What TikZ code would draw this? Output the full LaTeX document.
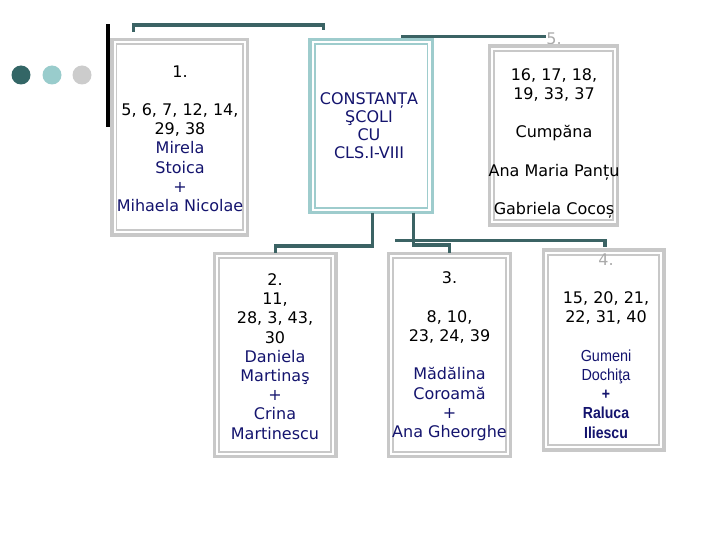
\documentclass[tikz,border=0pt]{standalone}
\usepackage{fontspec}
\setmainfont{DejaVu Sans}
\newfontfamily\arialf[FakeStretch=0.9]{Liberation Sans}
\newfontfamily\arialbf[FakeStretch=0.88]{Liberation Sans Bold}
\definecolor{boxgray}{RGB}{200,200,200}
\definecolor{boxteal}{RGB}{158,204,205}
\definecolor{conn}{RGB}{59,99,100}
\definecolor{dotdark}{RGB}{51,102,102}
\definecolor{dotlight}{RGB}{153,204,204}
\definecolor{dotgray}{RGB}{204,204,204}
\definecolor{navy}{RGB}{20,20,110}
\definecolor{lblgray}{RGB}{170,170,170}
\newcommand{\nv}[1]{{\color{navy}#1}}
\newcommand{\ar}[1]{{\arialf\fontsize{16}{19.2}\selectfont\color{navy}#1}}
\newcommand{\arb}[1]{{\arialbf\fontsize{16}{19.2}\selectfont\color{navy}#1}}
\begin{document}
\begin{tikzpicture}[x=1pt,y=-1pt,
  gbox/.style={draw=boxgray,line width=3.5pt,inner sep=0pt,outer sep=0pt,fill=white},
  tbox/.style={gbox,draw=boxteal},
  ginner/.style={draw=boxgray,line width=1.8pt},
  tinner/.style={draw=boxteal,line width=1.8pt},
  conline/.style={draw=conn,line width=3.3pt},
  txt/.style={align=center,font=\fontsize{16}{19.2}\selectfont,inner sep=0pt},
  dot/.style={circle,inner sep=0pt,minimum size=19pt}]
\useasboundingbox (0,0) rectangle (720,540);
\fill[white] (0,0) rectangle (720,540);

% decoration
\node[dot,fill=dotdark] (d1) at (21,75) {};
\node[dot,fill=dotlight] (d2) at (52,75) {};
\node[dot,fill=dotgray] (d3) at (82,75) {};
\fill[black] (106,24) rectangle (109.5,127);

% label 5 (partly hidden by box)
\node[txt,text=lblgray] (lbl5) at (554,39) {5.};

% boxes
\node[gbox,minimum width=135.8pt,minimum height=195.5pt] (b1) at (179.7,137.2) {};
\node[tbox,minimum width=122.2pt,minimum height=173.1pt] (bc) at (371.2,126) {};
\node[gbox,minimum width=128.1pt,minimum height=178.9pt] (b5) at (553.5,135.5) {};
\node[gbox,minimum width=121.5pt,minimum height=203.1pt] (b2) at (275.2,355) {};
\node[gbox,minimum width=122.1pt,minimum height=203.1pt] (b3) at (449.5,355) {};
\node[gbox,minimum width=120.5pt,minimum height=199.9pt] (b4) at (603.7,350) {};
\foreach \b in {b1,b5,b2,b3,b4}{
  \draw[ginner] ([shift={(4.75,4.75)}]\b.north west) rectangle ([shift={(-4.75,-4.75)}]\b.south east);
}
\draw[tinner] ([shift={(4.75,4.75)}]bc.north west) rectangle ([shift={(-4.75,-4.75)}]bc.south east);

% connectors
\coordinate (k1a) at (133.5,32);
\coordinate (k1c) at (133.5,25);
\coordinate (k1d) at (323.5,25);
\coordinate (k1b) at (323.5,30);
\draw[conline] (k1a) -- (k1c) -- (k1d) -- (k1b);
\coordinate (k2a) at (401,36.5);
\draw[conline] (k2a) -- (k2a -| lbl5.west);
\coordinate (k3) at (372.5,246);
\draw[conline] (bc.south -| k3) |- (k3) -| (b2.north);
\coordinate (k4) at (413.5,245);
\draw[conline] (bc.south -| k4) |- (k4) -| (b3.north);
\coordinate (k5a) at (395,240.5);
\coordinate (k5b) at (605,247);
\draw[conline] (k5a) -| (k5b);

% texts
\node[txt] (t1) at (180,138.5) {1.\\\mbox{}\\5, 6, 7, 12, 14,\\29, 38\\\nv{Mirela}\\\nv{Stoica}\\\nv{+}\\\nv{Mihaela Nicolae}};
\node[txt,font=\fontsize{16}{18}\selectfont] (tc) at (369,126) {\nv{CONSTANȚA}\\\nv{ŞCOLI}\\\nv{CU}\\\nv{CLS.I-VIII}};
\node[txt] (t5) at (554,143.5) {16, 17, 18,\\19, 33, 37\\\mbox{}\\Cumpăna\\\mbox{}\\Ana Maria Panțu\\\mbox{}\\Gabriela Cocoș};
\node[txt] (t2) at (275,356.5) {2.\\11,\\28, 3, 43,\\30\\\nv{Daniela}\\\nv{Martinaş}\\\nv{+}\\\nv{Crina}\\\nv{Martinescu}};
\node[txt] (t3) at (449.5,356.5) {3.\\\mbox{}\\8, 10,\\23, 24, 39\\\mbox{}\\\nv{Mădălina}\\\nv{Coroamă}\\\nv{+}\\\nv{Ana Gheorghe}};
\node[txt] (t4) at (606,346) {{\color{lblgray}4.}\\\mbox{}\\15, 20, 21,\\22, 31, 40\\\mbox{}\\\ar{Gumeni}\\\ar{Dochiţa}\\\arb{+}\\\arb{Raluca}\\\arb{Iliescu}};
\end{tikzpicture}
\end{document}
